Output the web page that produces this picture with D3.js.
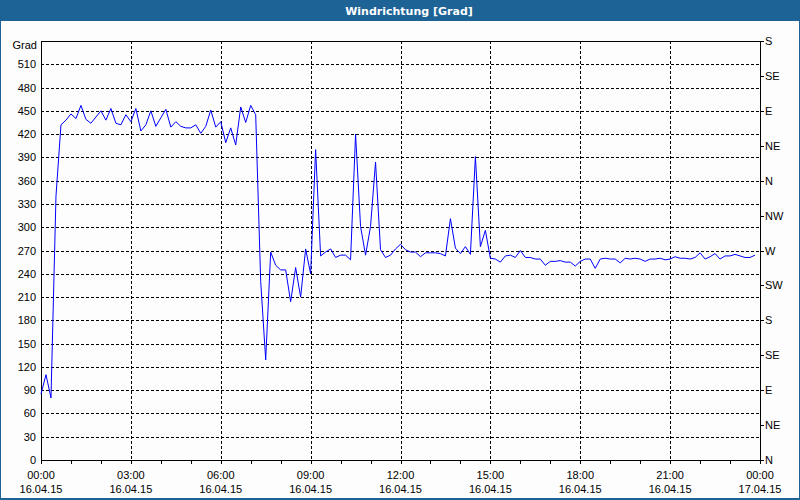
<!DOCTYPE html>
<html>
<head>
<meta charset="utf-8">
<script src="https://cdn.jsdelivr.net/npm/d3@7"></script>
<style>
  body { margin: 0; background: #fff; }
  svg { display: block; font-family: "Liberation Sans", Arial, sans-serif; }
</style>
</head>
<body>
<div id="chart"></div>
<script>
// 10-minute readings, 16.04.15 00:00 .. 23:50
var stepMinutes = 10;
var windValues = [
  85, 110, 80, 340, 432, 438, 446, 440, 457, 439,
  434, 442, 450, 438, 453, 434, 432, 445, 436, 453,
  424, 432, 450, 430, 441, 452, 429, 436, 430, 428,
  428, 432, 421, 430, 451, 429, 436, 409, 428, 406,
  455, 435, 457, 445, 230, 129, 268, 251, 245, 245,
  204, 248, 210, 272, 240, 400, 263, 268, 272, 261,
  264, 264, 258, 420, 301, 264, 301, 384, 271, 261,
  264, 272, 278, 271, 268, 268, 262, 267, 267, 267,
  266, 263, 311, 273, 266, 275, 265, 391, 275, 296,
  260, 259, 255, 263, 264, 261, 270, 261, 261, 259,
  259, 251, 256, 256, 257, 255, 255, 250, 256, 259,
  259, 247, 259, 260, 259, 259, 254, 260, 259, 260,
  259, 256, 259, 259, 260, 258, 259, 262, 260, 260,
  259, 261, 267, 259, 262, 266, 259, 263, 263, 265,
  263, 261, 261, 264
];
var gradTicks = [0, 30, 60, 90, 120, 150, 180, 210, 240, 270, 300, 330, 360, 390, 420, 450, 480, 510];
var compassTicks = [0, 45, 90, 135, 180, 225, 270, 315, 360, 405, 450, 495, 540];
var compassLabels = ["N", "NE", "E", "SE", "S", "SW", "W", "NW", "N", "NE", "E", "SE", "S"];
var timeTicks = [0, 180, 360, 540, 720, 900, 1080, 1260, 1440];
var timeLabels = ["00:00", "03:00", "06:00", "09:00", "12:00", "15:00", "18:00", "21:00", "00:00"];
var dateLabels = ["16.04.15", "16.04.15", "16.04.15", "16.04.15", "16.04.15", "16.04.15", "16.04.15", "16.04.15", "17.04.15"];

var width = 800;
var height = 500;
var plotLeft = 41, plotRight = 760, plotTop = 41, plotBottom = 460;
var blue = "#1e6396";

var svg = d3.select("#chart")
  .append("svg")
  .attr("width", width)
  .attr("height", height);

svg.append("rect")
  .attr("width", width)
  .attr("height", height)
  .attr("fill", "#fdfdfd");

// title bar
svg.append("rect")
  .attr("x", 0).attr("y", 0)
  .attr("width", width).attr("height", 21)
  .attr("fill", blue);
svg.append("text")
  .attr("x", 409).attr("y", 15)
  .attr("text-anchor", "middle")
  .attr("fill", "#fff")
  .style("font-family", "'DejaVu Sans', sans-serif")
  .style("font-size", "11px")
  .style("font-weight", "bold")
  .text("Windrichtung [Grad]");

// frame
svg.append("rect").attr("x", 0).attr("y", 0).attr("width", 1).attr("height", height).attr("fill", blue);
svg.append("rect").attr("x", width - 1).attr("y", 0).attr("width", 1).attr("height", height).attr("fill", blue);
svg.append("rect").attr("x", 0).attr("y", height - 2).attr("width", width).attr("height", 2).attr("fill", blue);

var x = d3.scaleLinear().domain([0, 1440]).range([plotLeft, plotRight]);
var y = d3.scaleLinear().domain([0, 540]).range([plotBottom, plotTop]);

// horizontal grid
svg.append("g")
  .selectAll("line")
  .data(gradTicks.filter(function (d) { return d > 0; }))
  .enter()
  .append("line")
  .attr("x1", plotLeft).attr("x2", plotRight)
  .attr("y1", function (d) { return Math.round(y(d)) + 0.5; })
  .attr("y2", function (d) { return Math.round(y(d)) + 0.5; })
  .attr("stroke", "#000")
  .attr("stroke-dasharray", "3,2");

// vertical grid
svg.append("g")
  .selectAll("line")
  .data(timeTicks.slice(1, -1))
  .enter()
  .append("line")
  .attr("x1", function (d) { return Math.round(x(d)) + 0.5; })
  .attr("x2", function (d) { return Math.round(x(d)) + 0.5; })
  .attr("y1", plotTop).attr("y2", plotBottom)
  .attr("stroke", "#000")
  .attr("stroke-dasharray", "3,2");

// hourly minor ticks below the axis
svg.append("g")
  .selectAll("line")
  .data(d3.range(0, 1441, 60))
  .enter()
  .append("line")
  .attr("x1", function (d) { return Math.round(x(d)) + 0.5; })
  .attr("x2", function (d) { return Math.round(x(d)) + 0.5; })
  .attr("y1", plotBottom).attr("y2", plotBottom + 4)
  .attr("stroke", "#000");

// right compass ticks
svg.append("g")
  .selectAll("line")
  .data(compassTicks)
  .enter()
  .append("line")
  .attr("x1", plotRight).attr("x2", plotRight + 4)
  .attr("y1", function (d) { return Math.round(y(d)) + 0.5; })
  .attr("y2", function (d) { return Math.round(y(d)) + 0.5; })
  .attr("stroke", "#000");

// plot box
svg.append("rect")
  .attr("x", plotLeft + 0.5).attr("y", plotTop + 0.5)
  .attr("width", plotRight - plotLeft).attr("height", plotBottom - plotTop)
  .attr("fill", "none")
  .attr("stroke", "#000");

// data line
var line = d3.line()
  .x(function (d, i) { return x(i * stepMinutes); })
  .y(function (d) { return y(d); });

svg.append("path")
  .datum(windValues)
  .attr("d", line)
  .attr("fill", "none")
  .attr("stroke", "#0000ff")
  .attr("stroke-width", 1);

// left labels
svg.append("g")
  .selectAll("text")
  .data(gradTicks)
  .enter()
  .append("text")
  .attr("x", 36)
  .attr("y", function (d) { return y(d) + 4; })
  .attr("text-anchor", "end")
  .style("font-size", "11px")
  .text(function (d) { return d; });

svg.append("text")
  .attr("x", 37).attr("y", 49)
  .attr("text-anchor", "end")
  .style("font-size", "11px")
  .text("Grad");

// right labels
svg.append("g")
  .selectAll("text")
  .data(compassTicks)
  .enter()
  .append("text")
  .attr("x", 765)
  .attr("y", function (d) { return y(d) + 4; })
  .style("font-size", "11px")
  .text(function (d, i) { return compassLabels[i]; });

// time labels
svg.append("g")
  .selectAll("text")
  .data(timeTicks)
  .enter()
  .append("text")
  .attr("x", function (d) { return x(d); })
  .attr("y", 479)
  .attr("text-anchor", "middle")
  .style("font-size", "11px")
  .text(function (d, i) { return timeLabels[i]; });

svg.append("g")
  .selectAll("text")
  .data(timeTicks)
  .enter()
  .append("text")
  .attr("x", function (d) { return x(d); })
  .attr("y", 493)
  .attr("text-anchor", "middle")
  .style("font-size", "11px")
  .text(function (d, i) { return dateLabels[i]; });
</script>
</body>
</html>
